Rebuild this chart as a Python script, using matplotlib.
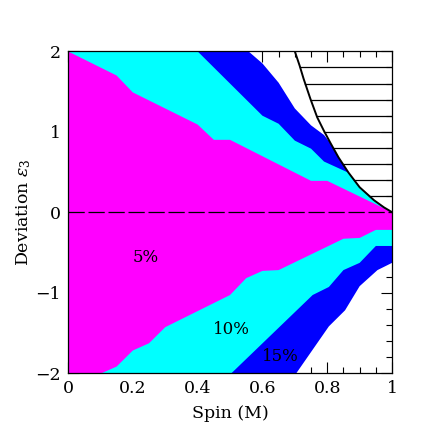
import numpy as np
import matplotlib
matplotlib.use('Agg')
import matplotlib.pyplot as plt
from matplotlib.ticker import MultipleLocator

plt.rcParams['font.family'] = 'DejaVu Serif'
plt.rcParams['mathtext.fontset'] = 'dejavuserif'

# ─── Contornos (spin, desviación) ────────────────────────────────────────────

# curva límite (región rayada a la derecha)
curve_spin = [0.70, 0.715, 0.727, 0.748, 0.769, 0.79, 0.81, 0.835, 0.866, 0.90,
              0.944, 0.975, 1.0]
curve_eps  = [2.00, 1.82, 1.66, 1.41, 1.18, 1.01, 0.86, 0.68, 0.49, 0.31,
              0.15, 0.06, 0.0]

# 15% (azul)
c15_up_spin = [0.0, 0.557, 0.60, 0.65, 0.70, 0.75, 0.79, 0.81]
c15_up_eps  = [2.0, 2.0, 1.85, 1.61, 1.29, 1.08, 0.96, 0.86]
c15_lo_spin = [0.0, 0.705, 0.805, 0.855, 0.90, 0.955, 1.0]
c15_lo_eps  = [-2.0, -2.0, -1.42, -1.22, -0.92, -0.72, -0.63]

# 10% (cian)
c10_up_spin = [0.0, 0.40, 0.60, 0.65, 0.70, 0.75, 0.79, 0.866]
c10_up_eps  = [2.0, 2.0, 1.20, 1.10, 0.89, 0.79, 0.63, 0.49]
c10_lo_spin = [0.0, 0.505, 0.755, 0.805, 0.85, 0.90, 0.95, 1.0]
c10_lo_eps  = [-2.0, -2.0, -1.03, -0.93, -0.72, -0.63, -0.42, -0.42]

# 5% (magenta)
c5_up_spin = [0.0, 0.15, 0.20, 0.40, 0.45, 0.50, 0.75, 0.80, 1.0]
c5_up_eps  = [2.0, 1.70, 1.49, 1.09, 0.90, 0.90, 0.39, 0.39, 0.0]
c5_lo_spin = [0.0, 0.105, 0.15, 0.20, 0.25, 0.30, 0.50, 0.55, 0.60, 0.65,
              0.85, 0.90, 0.95, 1.0]
c5_lo_eps  = [-2.0, -2.0, -1.92, -1.72, -1.63, -1.43, -1.03, -0.82, -0.73, -0.72,
              -0.33, -0.32, -0.22, -0.22]

labels = ['5%', '10%', '15%']
label_pos = [(0.24, -0.56), (0.505, -1.46), (0.655, -1.80)]

hatch_levels = [0.2, 0.4, 0.6, 0.8, 1.0, 1.2, 1.4, 1.6, 1.8]


def tail_on_curve(x0):
    # tramo de la curva límite a la derecha de x0
    cs = np.array(curve_spin)
    ce = np.array(curve_eps)
    m = cs > x0
    return list(cs[m]), list(ce[m])


def fill_region(ax, up_x, up_y, lo_x, lo_y, color):
    tx, ty = tail_on_curve(up_x[-1])
    ux = list(up_x) + tx
    uy = list(up_y) + ty
    px = ux + list(lo_x)[::-1]
    py = uy + list(lo_y)[::-1]
    ax.fill(px, py, color=color, lw=0, zorder=1)


fig = plt.figure(figsize=(4.43, 4.43), dpi=100)
ax = fig.add_axes([0.1535, 0.158, 0.7315, 0.726])

fill_region(ax, c15_up_spin, c15_up_eps, c15_lo_spin, c15_lo_eps, '#0000ff')
fill_region(ax, c10_up_spin, c10_up_eps, c10_lo_spin, c10_lo_eps, '#00ffff')
fill_region(ax, c5_up_spin, c5_up_eps, c5_lo_spin, c5_lo_eps, '#ff00ff')

ax.axhline(0, color='k', lw=0.9, ls=(0, (13, 3)), zorder=3)
ax.plot(curve_spin, curve_eps, color='k', lw=1.4, zorder=4)

# rayado horizontal entre la curva y spin = 1
rev_e = np.array(curve_eps)[::-1]
rev_s = np.array(curve_spin)[::-1]
for lev in hatch_levels:
    xs = np.interp(lev, rev_e, rev_s)
    ax.plot([xs, 1.0], [lev, lev], color='k', lw=0.9, zorder=3)

for txt, (x, y) in zip(labels, label_pos):
    ax.text(x, y, txt, fontsize=12, ha='center', va='center', zorder=5)

ax.set_xlim(0, 1)
ax.set_ylim(-2, 2)
ax.xaxis.set_minor_locator(MultipleLocator(0.05))
ax.yaxis.set_major_locator(MultipleLocator(1))
ax.yaxis.set_minor_locator(MultipleLocator(0.2))
ax.set_xticks([0, 0.2, 0.4, 0.6, 0.8, 1.0])
ax.set_xticklabels(['0', '0.2', '0.4', '0.6', '0.8', '1'])
ax.tick_params(which='both', direction='in', top=True, right=True, labelsize=12.5)
ax.tick_params(which='major', length=8, width=0.8, pad=5)
ax.tick_params(which='minor', length=4, width=0.8)
ax.set_axisbelow(True)
for s in ax.spines.values():
    s.set_linewidth(0.9)
    s.set_zorder(6)

ax.set_xlabel('Spin (M)', fontsize=12.5, labelpad=6)
ax.set_ylabel(r'Deviation $\epsilon_3$', fontsize=12.5, labelpad=2)

fig.savefig('out.png', dpi=100)
